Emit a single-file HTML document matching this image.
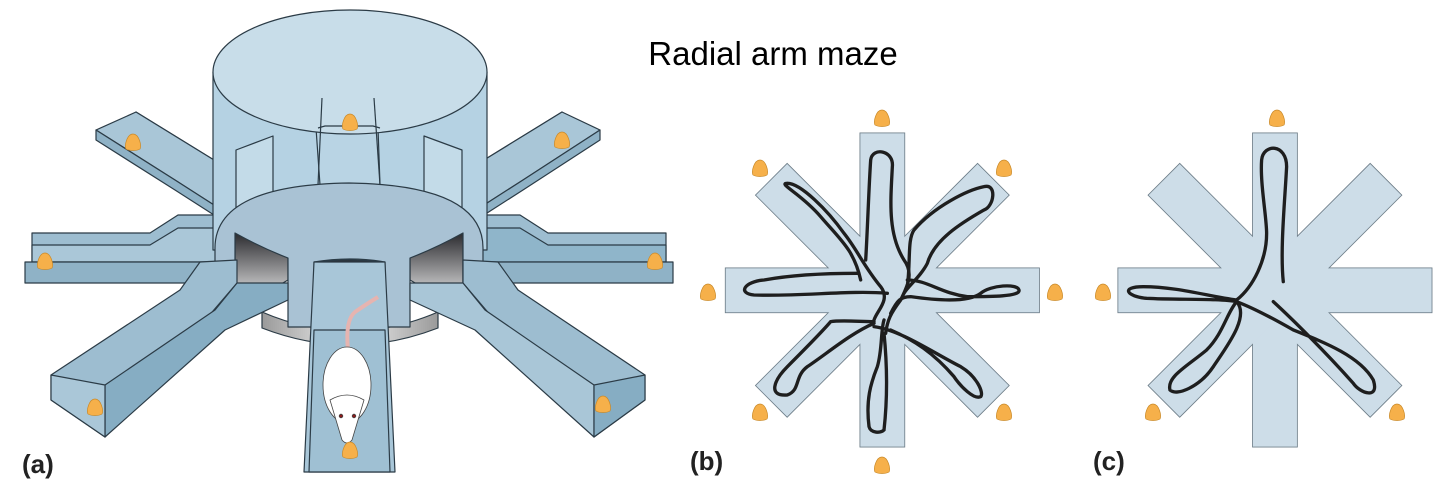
<!DOCTYPE html>
<html><head><meta charset="utf-8">
<style>
html,body{margin:0;padding:0;background:#fff;}
svg{display:block;}
text{font-family:"Liberation Sans",sans-serif;}
</style></head>
<body>
<svg width="1440" height="502" viewBox="0 0 1440 502" xmlns="http://www.w3.org/2000/svg">
<defs>
  <linearGradient id="dark" x1="0" y1="0" x2="0" y2="1">
    <stop offset="0" stop-color="#2a2a2e"/><stop offset="1" stop-color="#f4f4f4"/>
  </linearGradient>
  <linearGradient id="ring" x1="0" y1="0" x2="1" y2="0">
    <stop offset="0" stop-color="#9a9a9a"/><stop offset="0.5" stop-color="#f2f2f2"/><stop offset="1" stop-color="#9a9a9a"/>
  </linearGradient>
  <path id="pellet" d="M0,-8 C6,-8 9,4 7,7 C4,9 -4,9 -7,7 C-9,4 -6,-8 0,-8Z" fill="#f6b04a" stroke="#c98a2a" stroke-width="0.7"/>
</defs>

<text x="773" y="65" font-size="33" text-anchor="middle" fill="#000">Radial arm maze</text>

<!-- ================= Panel A ================= -->
<g stroke="#2b3b46" stroke-width="1.2" stroke-linejoin="round">
  <g>
    <polygon points="136,112 214,160 214,200 136,150" fill="#b7d0de"/>
    <polygon points="96,130 136,112 214,160 214,205 175,180" fill="#a9c6d7"/>
    <polygon points="96,130 96,140 175,190 214,215 214,205 175,180" fill="#8fb2c6"/>
    <use href="#pellet" x="133" y="142"/>
  </g>
  <g>
    <polygon points="562,112 484,160 484,200 562,150" fill="#b7d0de"/>
    <polygon points="600,130 562,112 484,160 484,205 523,180" fill="#a9c6d7"/>
    <polygon points="600,130 600,140 523,190 484,215 484,205 523,180" fill="#8fb2c6"/>
    <use href="#pellet" x="562" y="140"/>
  </g>
  <g>
    <polygon points="32,233 150,233 178,215 216,215 216,262 32,262" fill="#9dbdd0"/>
    <polygon points="32,245 150,245 178,228 216,228 216,262 32,262" fill="#aac7d8"/>
    <polygon points="25,262 216,262 216,283 25,283" fill="#8fb2c6"/>
    <use href="#pellet" x="45" y="261"/>
  </g>
  <g>
    <polygon points="666,233 548,233 520,215 482,215 482,262 666,262" fill="#9dbdd0"/>
    <polygon points="666,245 548,245 520,228 482,228 482,262 666,262" fill="#8fb5ca"/>
    <polygon points="673,262 482,262 482,283 673,283" fill="#8fb2c6"/>
    <use href="#pellet" x="655" y="261"/>
  </g>
  <path d="M213,72 L213,250 L487,250 L487,72 Z" fill="#b5d2e3"/>
  <polygon points="236,150 273,136 273,215 236,230" fill="#c3dbe8"/>
  <polygon points="424,136 462,150 462,230 424,215" fill="#c3dbe8"/>
  <polygon points="316,128 378,128 380,185 320,185" fill="#b9d4e4"/>
  <ellipse cx="350" cy="72" rx="137" ry="62" fill="#c8dde9"/>
  <line x1="322" y1="98" x2="318" y2="185"/>
  <line x1="374" y1="98" x2="380" y2="185"/>
  <polyline points="318,128 325,126 373,126 380,128" fill="none"/>
  <use href="#pellet" x="350" y="122"/>
  <path d="M262,312 Q350,350 438,312 L438,328 Q350,362 262,328 Z" fill="url(#ring)"/>
  <path d="M235,233 Q262,245 288,258 L288,280 L245,305 L235,300 Z" fill="url(#dark)"/>
  <path d="M463,233 Q436,245 410,258 L410,280 L453,305 L463,300 Z" fill="url(#dark)"/>
  <path d="M314,262 Q350,258 385,262 L385,330 L314,330 Z" fill="url(#dark)"/>
  <path d="M215,248 Q215,185 349,183 Q483,185 483,248 L483,300 L463,300 L463,233 Q436,248 410,258 L410,327 L385,327 L385,262 Q350,256 314,262 L314,327 L288,327 L288,258 Q262,248 235,233 L235,300 L215,300 Z" fill="#a9c2d4"/>
  <g>
    <polygon points="51,375 180,290 200,262 237,260 237,283 105,437 51,400" fill="#9dbdd0"/>
    <polygon points="105,385 215,310 237,283 288,283 288,300 225,330 105,437" fill="#86adc3"/>
    <polygon points="51,400 105,437 105,385 51,375" fill="#aac7d8"/>
    <use href="#pellet" x="95" y="407"/>
  </g>
  <g>
    <polygon points="645,375 518,290 498,262 463,260 463,283 594,437 645,400" fill="#9dbdd0"/>
    <polygon points="594,385 485,310 463,283 410,283 410,300 475,330 594,437" fill="#a9c6d7"/>
    <polygon points="645,400 594,437 594,385 645,375" fill="#86adc3"/>
    <use href="#pellet" x="603" y="404"/>
  </g>
  <g>
    <polygon points="314,262 385,262 395,472 304,472" fill="#a8c6d8"/>
    <polygon points="314,330 385,330 390,472 309,472" fill="#9fc0d3"/>
  </g>
  <g stroke="#444" stroke-width="0.8">
    <path d="M348,350 Q345,320 355,312 Q365,305 378,297" fill="none" stroke="#e6b4b0" stroke-width="4"/>
    <ellipse cx="347" cy="385" rx="24" ry="38" fill="#fff"/>
    <path d="M330,400 Q347,390 364,400 L352,440 Q347,446 342,440 Z" fill="#fff"/>
    <circle cx="341" cy="416" r="1.8" fill="#8b1a1a"/>
    <circle cx="354" cy="416" r="1.8" fill="#8b1a1a"/>
    <use href="#pellet" x="350" y="450" stroke="#c98a2a"/>
  </g>
</g>
<text x="22" y="473" font-size="26" font-weight="bold" fill="#222">(a)</text>

<!-- ================= Panel B ================= -->
<g transform="translate(700.7,100) scale(0.3333)">
  <g stroke="#6d7d88" stroke-width="5" fill="#cddde8">
    <rect x="479" y="100" width="132" height="940"/>
    <rect x="75" y="505" width="940" height="132"/>
    <rect x="75" y="505" width="940" height="132" transform="rotate(45 545 571)"/>
    <rect x="75" y="505" width="940" height="132" transform="rotate(-45 545 571)"/>
  </g>
  <g fill="#cddde8">
    <rect x="479" y="100" width="132" height="940"/>
    <rect x="75" y="505" width="940" height="132"/>
    <rect x="75" y="505" width="940" height="132" transform="rotate(45 545 571)"/>
    <rect x="75" y="505" width="940" height="132" transform="rotate(-45 545 571)"/>
  </g>
  <g fill="none" stroke="#1e1e1e" stroke-width="10" stroke-linecap="round">
    <path d="M495,480 C500,400 505,250 510,180 C515,140 580,150 575,200 C570,300 560,400 610,480 C640,520 620,560 600,600 C570,640 560,660 555,700"/>
    <path d="M480,540 C460,450 420,420 360,350 C300,280 230,250 260,250 C300,250 380,330 430,400 C470,450 490,500 540,560 C570,600 530,630 520,660"/>
    <path d="M560,580 C450,570 300,590 160,585 C110,580 130,545 190,540 C300,520 420,520 470,520"/>
    <path d="M620,540 C680,540 720,580 800,590 C870,590 960,590 955,570 C950,550 870,555 840,580 C800,610 700,600 630,590 C600,590 590,600 570,640"/>
    <path d="M620,560 C630,480 620,420 640,390 C700,320 800,270 850,260 C890,250 880,320 850,330 C780,370 700,420 680,490 C660,530 620,560 610,580"/>
    <path d="M520,670 C450,700 380,760 320,800 C280,830 300,870 260,885 C200,890 220,840 260,800 C320,740 360,700 390,665 C420,660 480,665 520,665"/>
    <path d="M520,680 C600,690 700,760 780,800 C830,830 850,880 840,890 C820,900 780,860 760,830 C700,760 640,720 570,690"/>
    <path d="M550,700 C560,800 560,900 550,990 C540,1000 510,1000 505,980 C495,900 510,850 530,800 C545,750 540,690 550,660"/>
  </g>
</g>
<g>
  <use href="#pellet" x="882" y="118"/>
  <use href="#pellet" x="760" y="168"/>
  <use href="#pellet" x="1004" y="168"/>
  <use href="#pellet" x="708" y="292"/>
  <use href="#pellet" x="1055" y="292"/>
  <use href="#pellet" x="760" y="412"/>
  <use href="#pellet" x="1004" y="412"/>
  <use href="#pellet" x="882" y="465"/>
</g>
<text x="690" y="470" font-size="26" font-weight="bold" fill="#222">(b)</text>

<!-- ================= Panel C ================= -->
<g transform="translate(1093.3,100) scale(0.3333)">
  <g stroke="#6d7d88" stroke-width="5" fill="#cddde8">
    <rect x="479" y="100" width="132" height="940"/>
    <rect x="75" y="505" width="940" height="132"/>
    <rect x="75" y="505" width="940" height="132" transform="rotate(45 545 571)"/>
    <rect x="75" y="505" width="940" height="132" transform="rotate(-45 545 571)"/>
  </g>
  <g fill="#cddde8">
    <rect x="479" y="100" width="132" height="940"/>
    <rect x="75" y="505" width="940" height="132"/>
    <rect x="75" y="505" width="940" height="132" transform="rotate(45 545 571)"/>
    <rect x="75" y="505" width="940" height="132" transform="rotate(-45 545 571)"/>
  </g>
  <g fill="none" stroke="#1e1e1e" stroke-width="10" stroke-linecap="round">
    <path d="M570,545 C560,450 575,300 580,200 C580,130 510,130 505,180 C500,250 520,350 520,400 C520,480 480,560 430,600 C350,590 250,560 150,560 C80,560 100,590 160,595 C250,600 380,595 430,605 C470,620 530,650 600,690 C700,730 800,770 840,840 C860,900 800,880 780,850 C700,760 600,660 540,605"/>
    <path d="M430,605 C400,640 390,700 340,750 C280,800 220,830 230,870 C250,890 320,860 360,800 C400,740 470,650 430,605"/>
  </g>
</g>
<g>
  <use href="#pellet" x="1277" y="118"/>
  <use href="#pellet" x="1103" y="292"/>
  <use href="#pellet" x="1153" y="412"/>
  <use href="#pellet" x="1397" y="412"/>
</g>
<text x="1093" y="470" font-size="26" font-weight="bold" fill="#222">(c)</text>
</svg>
</body></html>
